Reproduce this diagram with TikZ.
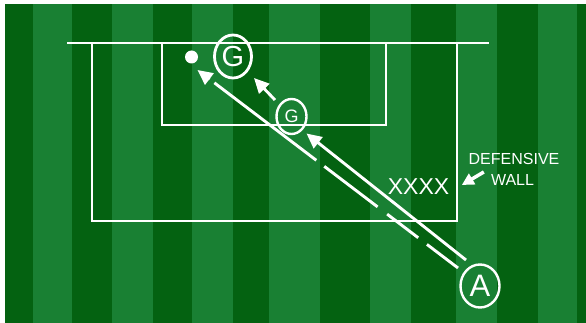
\documentclass[tikz,border=0pt]{standalone}
\usepackage{fontspec}
\setmainfont{Liberation Sans}
\usetikzlibrary{shapes.geometric,arrows.meta,calc}
\definecolor{darkgrass}{RGB}{4,98,17}
\definecolor{lightgrass}{RGB}{25,128,51}
\tikzset{
  fieldline/.style={draw=white, line width=2.9pt},
  player/.style={ellipse, draw=white, line width=2.8pt, inner sep=0pt, text=white},
  runline/.style={white, line width=2.9pt, -{Triangle[length=15pt,width=14pt]}},
  label/.style={text=white, inner sep=0pt},
}
\begin{document}
\begin{tikzpicture}[x=1pt,y=-1pt]
\useasboundingbox (0,0) rectangle (586,323);
\fill[white] (0,0) rectangle (586,323);
\fill[lightgrass] (5,4) rectangle (586,323);
\foreach \a/\b in {5/33,72/112,153/192,233/269,320/370,411/456,497/538,577/586}
  \fill[darkgrass] (\a,4) rectangle (\b,323);
% field markings
\draw[fieldline] (67,43) -- (489,43);
\draw[fieldline] (92,43) -- (92,221) -- (457,221) -- (457,43);
\draw[fieldline] (162,43) -- (162,125) -- (386,125) -- (386,43);
% players and ball
\node[player, minimum width=37pt, minimum height=43pt, font=\fontsize{29}{29}\selectfont] (G2) at (233,56.5) {G};
\node[player, minimum width=30pt, minimum height=35pt, line width=2.4pt, font=\fontsize{18}{18}\selectfont] (G1) at (291.5,116.5) {G};
\node[player, minimum width=39pt, minimum height=43pt, line width=2.4pt, font=\fontsize{31}{31}\selectfont] (A) at (480,286) {A};
\node[circle, fill=white, minimum size=13pt, inner sep=0pt] (ball) at (191.5,57) {};
% run lines
\coordinate (d0) at ($(A)+(-22,-18)$);
\coordinate (d1) at ($(ball)+(6,13)$);
\coordinate (s0) at ($(A)+(-14,-26)$);
\coordinate (s1) at ($(G1)+(15,17)$);
\coordinate (g0) at ($(G1)+(-16.5,-16.5)$);
\coordinate (g1) at ($(G2)+(21,21.5)$);
\draw[runline, dash pattern=on 39pt off 11pt on 39pt off 12pt on 67pt off 10pt on 128pt off 6pt on 100pt] (d0) -- (d1);
\draw[runline] (s0) -- (s1);
\draw[runline] (g0) -- (g1);
% defensive wall
\node[label, font=\fontsize{23}{23}\selectfont] (wall) at (418.5,186.5) {XXXX};
\node[label, font=\fontsize{16}{16}\selectfont] (def) at (514,158.5) {DEFENSIVE};
\node[label, font=\fontsize{16}{16}\selectfont] (wl) at (512.5,180) {WALL};
\coordinate (w0) at ($(wl.west)+(-7,-8)$);
\coordinate (w1) at ($(wl.west)+(-29,5)$);
\draw[white, line width=3.5pt, -{Triangle[length=12pt,width=12pt]}] (w0) -- (w1);
\end{tikzpicture}
\end{document}
